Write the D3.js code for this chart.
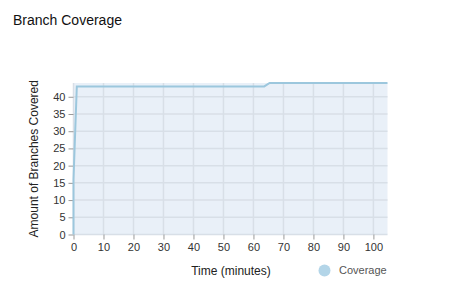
<!DOCTYPE html>
<html>
<head>
<meta charset="utf-8">
<style>
  body { margin: 0; background: #fff; font-family: "Liberation Sans", Arial, sans-serif; }
  .tick text { fill: #333; font-size: 11px; }
  .tick line { stroke: #999; }
</style>
</head>
<body>
<script src="https://cdn.jsdelivr.net/npm/d3@7"></script>
<script>
var width = 456, height = 291;

// coverage over time (minutes, branches covered)
var timeMinutes = [0, 0, 1.1, 63.6, 65.4, 104.7];
var branchesCovered = [0, 16, 43, 43, 44, 44];
var xTicks = [0, 10, 20, 30, 40, 50, 60, 70, 80, 90, 100];
var yTicks = [0, 5, 10, 15, 20, 25, 30, 35, 40];

var margin = {left: 73.5, right: 456 - 387.5, top: 83, bottom: 291 - 234.5};
var plotW = width - margin.left - margin.right,
    plotH = height - margin.top - margin.bottom;

var svg = d3.select("body").append("svg")
    .attr("width", width)
    .attr("height", height);

svg.append("text")
   .attr("x", 13)
   .attr("y", 25)
   .attr("font-size", 14)
   .attr("fill", "#111")
   .text("Branch Coverage");

var x = d3.scaleLinear().domain([0, 104.7]).range([0, plotW]);
var y = d3.scaleLinear().domain([0, 44]).range([plotH, 0]);

var g = svg.append("g")
    .attr("transform", "translate(" + margin.left + "," + margin.top + ")");

g.append("rect")
 .attr("width", plotW)
 .attr("height", plotH)
 .attr("fill", "#e9f0f8");

// grid
g.selectAll(".vgrid").data(xTicks).enter().append("line")
 .attr("x1", function(d) { return x(d); })
 .attr("x2", function(d) { return x(d); })
 .attr("y1", 0).attr("y2", plotH)
 .attr("stroke", "#d8dfe7").attr("stroke-width", 1.5);
g.selectAll(".hgrid").data(yTicks).enter().append("line")
 .attr("y1", function(d) { return y(d); })
 .attr("y2", function(d) { return y(d); })
 .attr("x1", 0).attr("x2", plotW)
 .attr("stroke", "#d8dfe7").attr("stroke-width", 1.5);

var xAxis = g.append("g")
 .attr("transform", "translate(0," + plotH + ")")
 .call(d3.axisBottom(x).tickValues(xTicks).tickSize(5).tickPadding(4));
xAxis.select(".domain").remove();

var yAxis = g.append("g")
 .call(d3.axisLeft(y).tickValues(yTicks).tickSize(5).tickPadding(3));
yAxis.select(".domain").remove();

var pts = timeMinutes.map(function(t, i) { return [t, branchesCovered[i]]; });
var line = d3.line()
  .x(function(d) { return x(d[0]); })
  .y(function(d) { return y(d[1]); });

g.append("path")
 .datum(pts)
 .attr("d", line)
 .attr("fill", "none")
 .attr("stroke", "#9cc7dd")
 .attr("stroke-width", 2);

svg.append("text")
   .attr("transform", "translate(38," + (margin.top + plotH / 2) + ") rotate(-90)")
   .attr("text-anchor", "middle")
   .attr("font-size", 12)
   .attr("fill", "#222")
   .text("Amount of Branches Covered");

svg.append("text")
   .attr("x", 231)
   .attr("y", 275)
   .attr("text-anchor", "middle")
   .attr("font-size", 12)
   .attr("fill", "#222")
   .text("Time (minutes)");

svg.append("circle")
   .attr("cx", 324.5).attr("cy", 270.5).attr("r", 6)
   .attr("fill", "#b3d5e8");
svg.append("text")
   .attr("x", 339)
   .attr("y", 274)
   .attr("font-size", 11)
   .attr("fill", "#555")
   .text("Coverage");
</script>
</body>
</html>
